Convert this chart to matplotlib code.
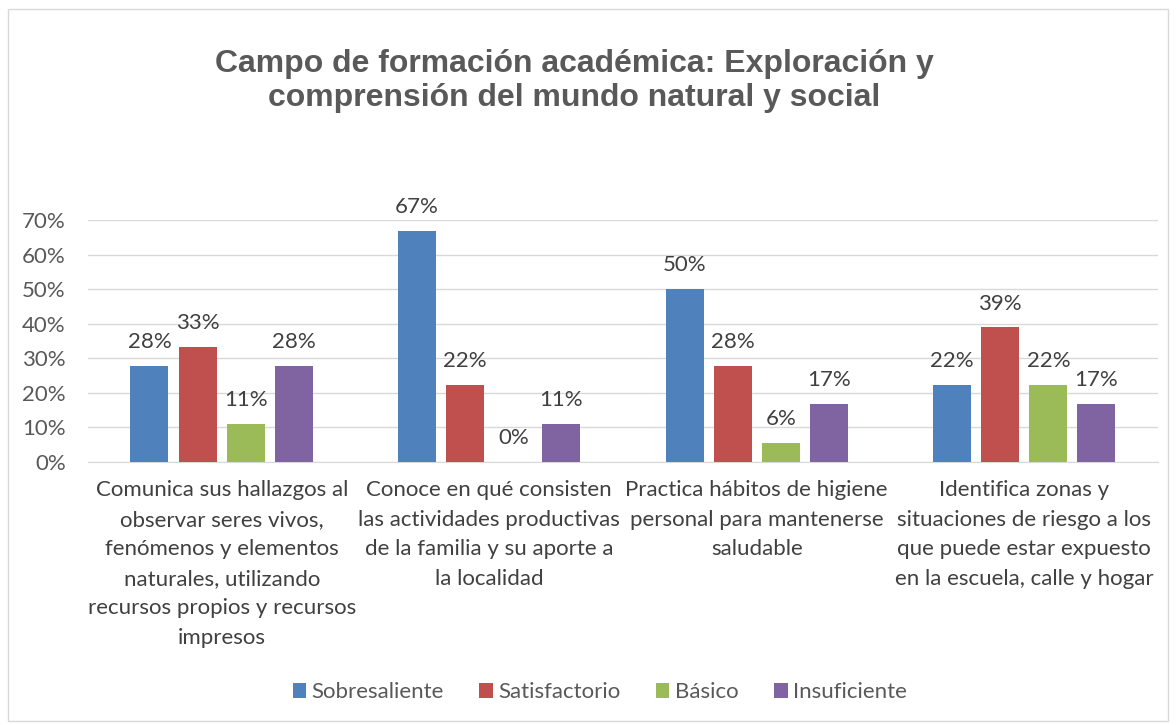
import matplotlib.pyplot as plt
import numpy as np
from matplotlib.patches import Rectangle

categories = [
    "Comunica sus hallazgos al\nobservar seres vivos,\nfenómenos y elementos\nnaturales, utilizando\nrecursos propios y recursos\nimpresos",
    "Conoce en qué consisten\nlas actividades productivas\nde la familia y su aporte a\nla localidad",
    "Practica hábitos de higiene\npersonal para mantenerse\nsaludable",
    "Identifica zonas y\nsituaciones de riesgo a los\nque puede estar expuesto\nen la escuela, calle y hogar",
]
series_names = ["Sobresaliente", "Satisfactorio", "Básico", "Insuficiente"]
sobresaliente = [0.278, 0.667, 0.500, 0.222]
satisfactorio = [0.333, 0.222, 0.278, 0.389]
basico = [0.111, 0.000, 0.056, 0.222]
insuficiente = [0.278, 0.111, 0.167, 0.167]
colors = ["#4f81bd", "#c0504d", "#9bbb59", "#8064a2"]

body_font = ["Lato", "DejaVu Sans"]

fig = plt.figure(figsize=(11.76, 7.25), dpi=100)
fig.patches.append(Rectangle((0.007, 0.006), 0.986, 0.981, transform=fig.transFigure,
                             fill=False, edgecolor="#d9d9d9", linewidth=1))
ax = fig.add_axes([0.0748, 0.3628, 0.9099, 0.3338])

x = np.arange(len(categories))
width = 0.142
step = 0.18
all_series = [sobresaliente, satisfactorio, basico, insuficiente]
for i, (name, vals) in enumerate(zip(series_names, all_series)):
    pos = x + (i - 1.5) * step
    bars = ax.bar(pos, vals, width, color=colors[i], label=name, zorder=3)
    for b, v in zip(bars, vals):
        ax.annotate(f"{v * 100:.0f}%", (b.get_x() + b.get_width() / 2, v),
                    xytext=(0, 10), textcoords="offset points",
                    ha="center", va="bottom", fontsize=16, color="#404040", family=body_font)

ax.set_xlim(-0.5, 3.5)
ax.set_ylim(0, 0.7)
ax.set_yticks(np.arange(0, 0.71, 0.1))
ax.set_yticklabels([f"{int(round(t * 100))}%" for t in np.arange(0, 0.71, 0.1)],
                   fontsize=16, color="#595959", family=body_font)
ax.yaxis.grid(True, color="#d9d9d9", linewidth=1, zorder=0)
ax.set_xticks(x)
ax.set_xticklabels(categories, fontsize=16, color="#404040", family=body_font, linespacing=1.6)
ax.tick_params(axis="both", length=0)
ax.tick_params(axis="x", pad=13)
ax.tick_params(axis="y", pad=16)
for s in ["top", "right", "left"]:
    ax.spines[s].set_visible(False)
ax.spines["bottom"].set_color("#d9d9d9")

fig.text(0.488, 0.888, "Campo de formación académica: Exploración y\ncomprensión del mundo natural y social",
         ha="center", va="center", fontsize=23, fontweight="bold", color="#595959",
         family="Liberation Sans", linespacing=1.15)

leg = fig.legend(loc="center", bbox_to_anchor=(0.51, 0.045), ncol=4, frameon=False,
                 prop={"family": body_font, "size": 16}, handlelength=0.6, handleheight=0.6,
                 handletextpad=0.25, columnspacing=1.6)
for t in leg.get_texts():
    t.set_color("#595959")

fig.savefig("out.png", dpi=100)
